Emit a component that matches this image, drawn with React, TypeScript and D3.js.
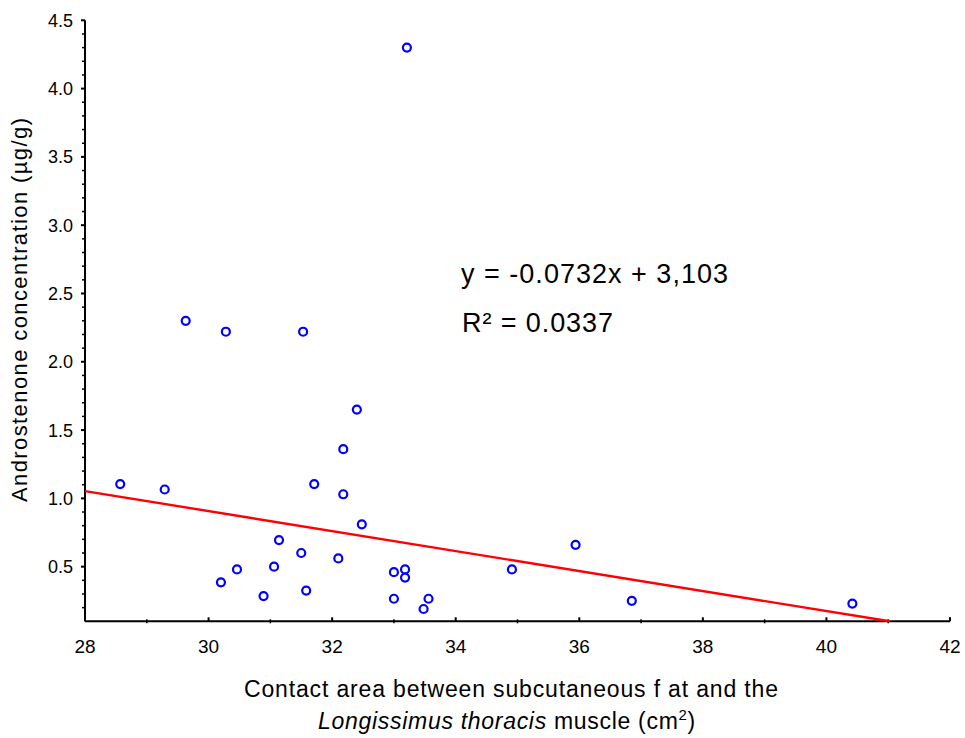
import React from "react";
import * as d3 from "d3";

const contactArea = [33.21, 29.63, 30.28, 31.53, 32.40, 32.18, 31.71, 32.18, 32.48, 31.14, 31.50, 32.10, 30.46, 31.06, 30.20, 30.89, 31.58, 33.00, 33.18, 33.18, 33.00, 33.56, 33.48, 28.57, 29.29, 34.91, 35.94, 36.85, 40.42];
const androstenone = [4.30, 2.30, 2.22, 2.22, 1.65, 1.36, 1.105, 1.03, 0.81, 0.695, 0.60, 0.56, 0.48, 0.50, 0.385, 0.285, 0.325, 0.46, 0.48, 0.42, 0.265, 0.265, 0.19, 1.105, 1.065, 0.48, 0.66, 0.25, 0.23];
const xTicks = [28, 30, 32, 34, 36, 38, 40, 42];
const yTicks = [0.5, 1.0, 1.5, 2.0, 2.5, 3.0, 3.5, 4.0, 4.5];
const slope = -0.0732;
const intercept = 3.103;

export default function App() {
  const W = 965, H = 738;
  const x = d3.scaleLinear().domain([28, 42]).range([85, 950]);
  const y = d3.scaleLinear().domain([0.1, 4.5]).range([621.3, 20.3]);
  const font = "'Liberation Sans', Arial, sans-serif";
  const xMinor = d3.range(29, 42, 2);
  const yMinor = d3.range(2, 45).map(v => v / 10).filter(v => Math.abs(v * 2 - Math.round(v * 2)) > 1e-6);
  const xEnd = (0.1 - intercept) / slope;
  const line = d3.line<number>().x(d => x(d)).y(d => y(slope * d + intercept));
  return (
    <svg width={W} height={H} style={{ position: "absolute", left: 0, top: 0, background: "#fff" }}>
      <rect width={W} height={H} fill="#fff" />
      {/* axes */}
      <line x1={x(28)} x2={x(42)} y1={y(0.1)} y2={y(0.1)} stroke="#000" strokeWidth={2} />
      <line x1={x(28)} x2={x(28)} y1={y(0.1)} y2={y(4.5)} stroke="#000" strokeWidth={2} />
      {xTicks.map(t => (
        <g key={"xt" + t}>
          <line x1={x(t)} x2={x(t)} y1={y(0.1)} y2={y(0.1) - 4} stroke="#000" strokeWidth={2} />
          <text x={x(t)} y={653} textAnchor="middle" fontFamily={font} fontSize={19} fill="#000">{t}</text>
        </g>
      ))}
      {xMinor.map(t => (
        <line key={"xm" + t} x1={x(t)} x2={x(t)} y1={y(0.1) - 2} y2={y(0.1) + 2} stroke="#000" strokeWidth={1.5} />
      ))}
      {yTicks.map(t => (
        <g key={"yt" + t}>
          <line x1={x(28) - 4} x2={x(28)} y1={y(t)} y2={y(t)} stroke="#000" strokeWidth={2} />
          <text x={73} y={y(t) + 6.5} textAnchor="end" fontFamily={font} fontSize={18} fill="#000">{t.toFixed(1)}</text>
        </g>
      ))}
      {yMinor.map(t => (
        <line key={"ym" + t} x1={x(28) - 3} x2={x(28)} y1={y(t)} y2={y(t)} stroke="#000" strokeWidth={1.5} />
      ))}
      {/* regression line */}
      <path d={line([28, xEnd]) || ""} fill="none" stroke="#ff0000" strokeWidth={2.4} />
      {/* points */}
      {contactArea.map((v, i) => (
        <circle key={"p" + i} cx={x(v)} cy={y(androstenone[i])} r={4} fill="#fff" stroke="#0000ff" strokeWidth={2.2} />
      ))}
      {/* equation */}
      <text x={461} y={283} fontFamily={font} fontSize={27} fill="#000" textLength={267} lengthAdjust="spacing">y = -0.0732x + 3,103</text>
      <text x={462} y={332} fontFamily={font} fontSize={27} fill="#000" textLength={151} lengthAdjust="spacing">R² = 0.0337</text>
      {/* axis titles */}
      <text transform="translate(27,310) rotate(-90)" textAnchor="middle" fontFamily={font} fontSize={22} fill="#000" textLength={384} lengthAdjust="spacing">Androstenone concentration (µg/g)</text>
      <text x={511} y={697} textAnchor="middle" fontFamily={font} fontSize={23} fill="#000" textLength={534} lengthAdjust="spacing">Contact area between subcutaneous f at and the</text>
      <text x={507} y={729} textAnchor="middle" fontFamily={font} fontSize={23} fill="#000" letterSpacing={0.7}>
        <tspan fontStyle="italic">Longissimus thoracis</tspan>
        <tspan> muscle (cm</tspan>
        <tspan dy={-9} fontSize={15}>2</tspan>
        <tspan dy={9}>)</tspan>
      </text>
    </svg>
  );
}
